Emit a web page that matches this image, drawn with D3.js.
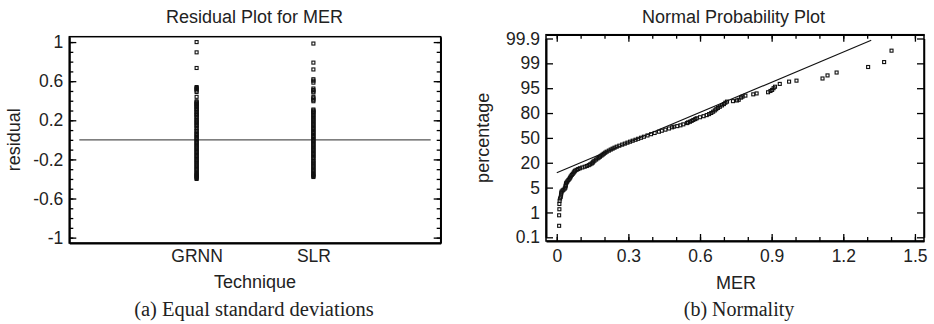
<!DOCTYPE html>
<html><head><meta charset="utf-8">
<script src="https://cdn.jsdelivr.net/npm/d3@7"></script>
<style>
html,body{margin:0;padding:0;background:#fff;}
svg text{font-family:"Liberation Sans",Arial,sans-serif;fill:#222;}
svg text.cap{font-family:"Liberation Serif","Times New Roman",serif;}
</style></head>
<body><svg id="c" width="934" height="324"></svg>
<script>
// ---------- data ----------
const techniques = ["GRNN", "SLR"];
const grnnResiduals = [1.0,0.895,0.735,0.54,0.53,0.52,0.505,0.49,0.44,0.395,0.385,0.375,0.365,0.355,0.345,0.335,0.32,0.31,0.30,0.285,0.27,0.26,0.25,0.235,0.22,0.205,0.19,0.18,0.165,0.15,0.14,0.12,0.105,0.09,0.075,0.06,0.05,0.035,0.02,0.01,-0.005,-0.02,-0.03,-0.045,-0.06,-0.07,-0.085,-0.1,-0.11,-0.125,-0.14,-0.15,-0.165,-0.18,-0.19,-0.205,-0.22,-0.23,-0.245,-0.26,-0.27,-0.285,-0.3,-0.31,-0.325,-0.34,-0.35,-0.36,-0.37,-0.38,-0.39,-0.4];
const slrResiduals = [0.985,0.79,0.72,0.62,0.605,0.585,0.525,0.51,0.495,0.485,0.44,0.425,0.41,0.395,0.31,0.30,0.29,0.28,0.27,0.255,0.24,0.23,0.215,0.2,0.19,0.175,0.16,0.15,0.135,0.12,0.11,0.095,0.08,0.07,0.055,0.04,0.03,0.015,0.0,-0.01,-0.025,-0.04,-0.05,-0.065,-0.08,-0.09,-0.105,-0.12,-0.13,-0.145,-0.16,-0.17,-0.185,-0.2,-0.215,-0.23,-0.24,-0.255,-0.27,-0.28,-0.295,-0.31,-0.32,-0.335,-0.35,-0.36,-0.37,-0.38];
const residualTicks = [-1,-0.6,-0.2,0.2,0.6,1];
const residualTickLabels = ["-1","-0.6","-0.2","0.2","0.6","1"];
const residualMinorTicks = [-1,-0.9,-0.8,-0.7,-0.6,-0.5,-0.4,-0.3,-0.2,-0.1,0,0.1,0.2,0.3,0.4,0.5,0.6,0.7,0.8,0.9,1];

const merValues = [0.010,0.010,0.011,0.011,0.012,0.014,0.017,0.018,0.019,0.020,
0.024,0.028,0.033,0.036,0.037,0.038,0.039,0.042,0.045,0.049,
0.053,0.056,0.059,0.063,0.067,0.071,0.074,0.077,0.083,0.090,
0.097,0.107,0.117,0.126,0.134,0.140,0.146,0.150,0.153,0.158,
0.165,0.171,0.176,0.181,0.187,0.192,0.197,0.203,0.209,0.218,
0.226,0.234,0.242,0.251,0.262,0.274,0.285,0.296,0.307,0.318,
0.330,0.341,0.353,0.365,0.380,0.395,0.410,0.428,0.440,0.455,
0.470,0.483,0.490,0.505,0.518,0.530,0.545,0.550,0.558,0.565,
0.572,0.580,0.586,0.600,0.615,0.628,0.638,0.647,0.655,0.662,
0.668,0.675,0.683,0.692,0.700,0.706,0.713,0.738,0.755,0.762,
0.772,0.778,0.790,0.823,0.837,0.885,0.895,0.902,0.908,0.914,
0.934,0.973,1.004,1.113,1.134,1.172,1.304,1.371,1.402];
const pctValues = [0.31,0.79,1.26,1.81,2.25,2.6,2.9,3.3,3.6,3.95,
4.2,4.4,4.7,5.0,5.5,6.0,6.6,7.0,7.5,8.1,
8.7,9.3,10.0,10.8,11.5,12.3,13.0,13.6,14.2,14.8,
15.4,16.0,16.6,17.2,17.9,18.6,19.3,20.0,21.0,22.0,
23.2,24.4,25.3,26.2,27.4,28.5,29.6,30.8,32.0,33.3,
34.6,35.8,37.0,38.3,39.6,41.0,42.3,43.6,44.9,46.2,
47.5,48.8,50.2,51.6,53.3,55.0,56.6,58.3,59.6,61.0,
62.5,64.0,64.8,65.5,66.5,67.7,69.2,70.0,70.8,71.8,
72.8,73.8,74.7,75.8,76.9,78.0,79.0,80.1,81.2,82.3,
83.3,84.3,85.2,86.2,87.1,88.0,88.7,89.0,89.4,89.8,
91.0,91.5,92.0,92.6,93.0,93.5,94.0,94.4,95.0,95.4,
96.1,96.6,96.8,97.2,97.7,98.1,98.7,99.1,99.67];
const fitMer = [0, 1.317];
const fitPct = [12.2, 99.88];
const pctTicks = [0.1,1,5,20,50,80,95,99,99.9];
const pctTickLabels = ["0.1","1","5","20","50","80","95","99","99.9"];
const merTicks = [0,0.3,0.6,0.9,1.2,1.5];
const merTickLabels = ["0","0.3","0.6","0.9","1.2","1.5"];
const merMinorTicks = [0,0.1,0.2,0.3,0.4,0.5,0.6,0.7,0.8,0.9,1.0,1.1,1.2,1.3,1.4,1.5];

// inverse normal CDF (Acklam) used for the probability axis
function probit(p){
  const a=[-3.969683028665376e+01,2.209460984245205e+02,-2.759285104469687e+02,1.383577518672690e+02,-3.066479806614716e+01,2.506628277459239e+00];
  const b=[-5.447609879822406e+01,1.615858368580409e+02,-1.556989798598866e+02,6.680131188771972e+01,-1.328068155288572e+01];
  const c=[-7.784894002430293e-03,-3.223964580411365e-01,-2.400758277161838e+00,-2.549732539343734e+00,4.374664141464968e+00,2.938163982698783e+00];
  const d=[7.784695709041462e-03,3.224671290700398e-01,2.445134137142996e+00,3.754408661907416e+00];
  const pl=0.02425, ph=1-pl;
  if(p<pl){const q=Math.sqrt(-2*Math.log(p));return (((((c[0]*q+c[1])*q+c[2])*q+c[3])*q+c[4])*q+c[5])/((((d[0]*q+d[1])*q+d[2])*q+d[3])*q+1);}
  if(p<=ph){const q=p-0.5,r=q*q;return (((((a[0]*r+a[1])*r+a[2])*r+a[3])*r+a[4])*r+a[5])*q/(((((b[0]*r+b[1])*r+b[2])*r+b[3])*r+b[4])*r+1);}
  const q=Math.sqrt(-2*Math.log(1-p));return -(((((c[0]*q+c[1])*q+c[2])*q+c[3])*q+c[4])*q+c[5])/((((d[0]*q+d[1])*q+d[2])*q+d[3])*q+1);
}

const svg = d3.select("#c");
const SQ = 3;

function drawSquares(g, pts){
  g.selectAll(null).data(pts).enter().append("rect")
    .attr("x", d=>d[0]-SQ/2).attr("y", d=>d[1]-SQ/2)
    .attr("width", SQ).attr("height", SQ)
    .attr("fill","none").attr("stroke","#111").attr("stroke-width",1.1);
}
function styleAxis(g, w){
  g.select(".domain").attr("stroke","#000").attr("stroke-width",w);
  g.selectAll(".tick line").attr("stroke","#000").attr("stroke-width",1.3);
  g.selectAll(".tick text").style("font-family","'Liberation Sans',Arial,sans-serif").style("font-size","17.5px").attr("fill","#222");
}

// ---------- panel (a) ----------
{
  const L=69.3, R=440.7, T=36.7, B=243;
  const x = d3.scalePoint().domain(techniques).range([L,R]).padding(1.09);
  const y = d3.scaleLinear().domain([-1.055,1.055]).range([B,T]);
  const g = svg.append("g");
  g.append("rect").attr("x",L).attr("y",T).attr("width",R-L).attr("height",B-T)
    .attr("fill","none").attr("stroke","#000").attr("stroke-width",1.5);
  const lm = g.append("g").attr("transform",`translate(${L},0)`)
    .call(d3.axisLeft(y).tickValues(residualMinorTicks).tickSize(-4).tickFormat(""));
  lm.select(".domain").remove(); lm.selectAll(".tick line").attr("stroke","#000").attr("stroke-width",1.3);
  const rm = g.append("g").attr("transform",`translate(${R},0)`)
    .call(d3.axisRight(y).tickValues(residualMinorTicks).tickSize(-4).tickFormat(""));
  rm.select(".domain").remove(); rm.selectAll(".tick line").attr("stroke","#000").attr("stroke-width",1.3);
  const ya = g.append("g").attr("transform",`translate(${L},0)`)
    .call(d3.axisLeft(y).tickValues(residualTicks).tickSize(-7).tickSizeOuter(0).tickPadding(6)
      .tickFormat((d,i)=>residualTickLabels[i]));
  styleAxis(ya, 2);
  const yr = g.append("g").attr("transform",`translate(${R},0)`)
    .call(d3.axisRight(y).tickValues(residualTicks).tickSize(-7).tickSizeOuter(0).tickFormat(""));
  styleAxis(yr, 1.5);
  const xa = g.append("g").attr("transform",`translate(0,${B})`)
    .call(d3.axisBottom(x).tickSize(0).tickSizeOuter(0).tickPadding(7));
  styleAxis(xa, 2);
  g.append("line").attr("x1",L+10).attr("x2",R-10).attr("y1",y(0)).attr("y2",y(0))
    .attr("stroke","#555").attr("stroke-width",1.3);
  drawSquares(g, grnnResiduals.map(v=>[x("GRNN"), y(v)]));
  drawSquares(g, slrResiduals.map(v=>[x("SLR"), y(v)]));
  g.append("text").attr("x",(L+R)/2-0.5).attr("y",22.5).attr("text-anchor","middle")
    .style("font-size","18px").text("Residual Plot for MER");
  g.append("text").attr("transform",`translate(20,${(T+B)/2}) rotate(-90)`).attr("text-anchor","middle")
    .style("font-size","18px").text("residual");
  g.append("text").attr("x",(L+R)/2).attr("y",288).attr("text-anchor","middle")
    .style("font-size","18px").text("Technique");
  g.append("text").attr("class","cap").attr("x",254).attr("y",316).attr("text-anchor","middle")
    .style("font-size","20.5px").text("(a) Equal standard deviations");
}

// ---------- panel (b) ----------
{
  const L=546, R=924, T=34.7, B=241;
  const x = d3.scaleLinear().domain([-0.045,1.538]).range([L,R]);
  const top = 38.5, bot = 237.3;
  const tickZ = pctTicks.map(p=>probit(p/100));
  const tickPos = pctTicks.map((p,i)=> bot - i*(bot-top)/(pctTicks.length-1));
  const yz = d3.scaleLinear().domain(tickZ).range(tickPos);
  const y = p => yz(probit(p/100));
  const g = svg.append("g");
  g.append("rect").attr("x",L).attr("y",T).attr("width",R-L).attr("height",B-T)
    .attr("fill","none").attr("stroke","#000").attr("stroke-width",1.5);
  const bm = g.append("g").attr("transform",`translate(0,${B})`)
    .call(d3.axisBottom(x).tickValues(merMinorTicks).tickSize(-4).tickFormat(""));
  bm.select(".domain").remove(); bm.selectAll(".tick line").attr("stroke","#000").attr("stroke-width",1.3);
  const tm = g.append("g").attr("transform",`translate(0,${T})`)
    .call(d3.axisTop(x).tickValues(merMinorTicks).tickSize(-4).tickFormat(""));
  tm.select(".domain").remove(); tm.selectAll(".tick line").attr("stroke","#000").attr("stroke-width",1.3);
  const xa = g.append("g").attr("transform",`translate(0,${B})`)
    .call(d3.axisBottom(x).tickValues(merTicks).tickSize(-7).tickSizeOuter(0).tickPadding(9)
      .tickFormat((d,i)=>merTickLabels[i]));
  styleAxis(xa, 2);
  const xt = g.append("g").attr("transform",`translate(0,${T})`)
    .call(d3.axisTop(x).tickValues(merTicks).tickSize(-7).tickSizeOuter(0).tickFormat(""));
  styleAxis(xt, 1.5);
  const ya = g.append("g").attr("transform",`translate(${L},0)`)
    .call(d3.axisLeft(yz).tickValues(tickZ).tickSize(-7).tickSizeOuter(0).tickPadding(6)
      .tickFormat((d,i)=>pctTickLabels[i]));
  styleAxis(ya, 2);
  const yr = g.append("g").attr("transform",`translate(${R},0)`)
    .call(d3.axisRight(yz).tickValues(tickZ).tickSize(-7).tickSizeOuter(0).tickFormat(""));
  styleAxis(yr, 1.5);
  g.append("line").attr("x1",x(fitMer[0])).attr("y1",y(fitPct[0]))
    .attr("x2",x(fitMer[1])).attr("y2",y(fitPct[1]))
    .attr("stroke","#111").attr("stroke-width",1.1);
  drawSquares(g, merValues.map((m,i)=>[x(m), y(pctValues[i])]));
  g.append("text").attr("x",733.5).attr("y",22.5).attr("text-anchor","middle")
    .style("font-size","18px").text("Normal Probability Plot");
  g.append("text").attr("transform",`translate(489,${(T+B)/2}) rotate(-90)`).attr("text-anchor","middle")
    .style("font-size","18px").text("percentage");
  g.append("text").attr("x",736).attr("y",288.5).attr("text-anchor","middle")
    .style("font-size","18px").text("MER");
  g.append("text").attr("class","cap").attr("x",739).attr("y",316).attr("text-anchor","middle")
    .style("font-size","20px").text("(b) Normality");
}
</script></body></html>
